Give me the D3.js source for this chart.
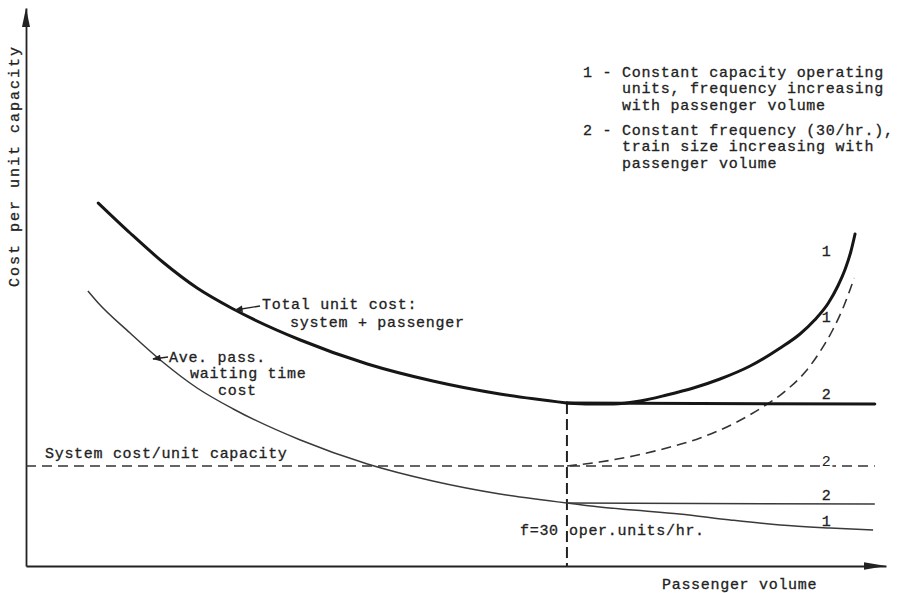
<!DOCTYPE html>
<html>
<head>
<meta charset="utf-8">
<script src="https://cdn.jsdelivr.net/npm/d3@7"></script>
<style>
  html, body { margin: 0; padding: 0; background: #fff; }
  svg { display: block; }
  text { font-family: "Liberation Mono", "DejaVu Sans Mono", monospace; fill: #222; font-size: 15px;
         letter-spacing: 0.7px; stroke: #222; stroke-width: 0.3px; }
</style>
</head>
<body>
<svg id="chart" width="904" height="593"></svg>
<script>
// Passenger volume (arbitrary units) against cost per unit capacity (arbitrary units)
const fThirtyVolume = 62.9;   // volume at which f = 30 operating units/hr.

// Total unit cost: system + passenger
const totalShared = [[8.4,3.63],[12.1,3.33],[15.9,3.04],[19.9,2.78],[24.1,2.57],[31.9,2.26],[39.7,2.02],[47.3,1.85],[55.1,1.72],[62.9,1.63]];
const totalCase1  = [[62.9,1.63],[65.6,1.62],[68.3,1.62],[71.4,1.65],[74.5,1.71],[77.6,1.78],[80.7,1.87],[84.2,2.00],[87.7,2.18],[90.0,2.32],[91.7,2.46],[93.3,2.63],[94.4,2.80],[95.3,2.98],[95.9,3.14],[96.4,3.32]];
const totalCase2  = [[62.9,1.63],[98.7,1.62]];

// System cost / unit capacity
const systemCase2 = [[0,1.00],[98.7,1.00]];
const systemCase1 = [[62.9,1.00],[66.7,1.04],[70.6,1.10],[74.5,1.18],[78.4,1.28],[82.2,1.42],[85.3,1.57],[88.3,1.75],[90.6,1.94],[92.3,2.14],[93.8,2.36],[95.1,2.60],[96.3,2.88]];

// Average passenger waiting time cost
const waitingShared = [[7.2,2.75],[8.4,2.63],[12.1,2.33],[15.9,2.04],[19.9,1.78],[24.1,1.57],[31.9,1.26],[39.7,1.02],[47.3,0.85],[55.1,0.72],[62.9,0.63]];
const waitingCase1  = [[62.9,0.63],[66.7,0.59],[70.6,0.56],[76.0,0.52],[81.9,0.46],[87.7,0.41],[93.5,0.38],[98.5,0.36]];
const waitingCase2  = [[62.9,0.63],[98.7,0.62]];

// Text
const yTitle = "Cost per unit capacity";
const xTitle = "Passenger volume";
const legendLines = [
  ["1 - ", "Constant capacity operating", "units, frequency increasing", "with passenger volume"],
  ["2 - ", "Constant frequency (30/hr.),", "train size increasing with", "passenger volume"]
];

const svg = d3.select("#chart");
const x = d3.scaleLinear().domain([0, 100]).range([26, 886]);
const y = d3.scaleLinear().domain([0, 5.58]).range([566, 8]);
const line = d3.line().x(d => x(d[0])).y(d => y(d[1])).curve(d3.curveMonotoneX);

// axes (no ticks) with arrowheads
const xAxis = svg.append("g").attr("transform", `translate(0,${y(0)})`)
  .call(d3.axisBottom(x).tickValues([]).tickSizeOuter(0));
const yAxis = svg.append("g").attr("transform", `translate(${x(0)},0)`)
  .call(d3.axisLeft(y).tickValues([]).tickSizeOuter(0));
[xAxis, yAxis].forEach(g => g.select(".domain").attr("stroke", "#222").attr("stroke-width", 1.8));
const xEnd = x(100), yTop = y(5.58);
svg.append("path").attr("fill", "#222")
  .attr("d", `M${xEnd},${y(0)} L${xEnd - 22},${y(0) - 3.8} L${xEnd - 22},${y(0) + 3.8} Z`);
svg.append("path").attr("fill", "#222")
  .attr("d", `M${x(0)},${yTop} L${x(0) - 4},${yTop + 19} L${x(0) + 4},${yTop + 19} Z`);

// system cost lines (dashed)
[systemCase2, systemCase1].forEach(s => {
  svg.append("path").attr("d", line(s)).attr("fill", "none")
    .attr("stroke", "#333").attr("stroke-width", 1.6).attr("stroke-dasharray", "10,6");
});

// f = 30 marker (dashed vertical)
svg.append("line")
  .attr("x1", x(fThirtyVolume)).attr("x2", x(fThirtyVolume))
  .attr("y1", y(totalShared[totalShared.length - 1][1])).attr("y2", y(0))
  .attr("stroke", "#222").attr("stroke-width", 2).attr("stroke-dasharray", "11,5");

// waiting time cost lines (thin)
[waitingShared, waitingCase1, waitingCase2].forEach(s => {
  svg.append("path").attr("d", line(s)).attr("fill", "none")
    .attr("stroke", "#3a3a3a").attr("stroke-width", 1.5);
});

// total unit cost lines (heavy)
[totalShared, totalCase1, totalCase2].forEach(s => {
  svg.append("path").attr("d", line(s)).attr("fill", "none")
    .attr("stroke", "#161616").attr("stroke-width", 3).attr("stroke-linecap", "round");
});

// leader arrows for curve captions
svg.append("defs").append("marker").attr("id", "tip")
  .attr("viewBox", "0 0 10 10").attr("refX", 9).attr("refY", 5)
  .attr("markerWidth", 7).attr("markerHeight", 6).attr("orient", "auto")
  .append("path").attr("d", "M0,1 L10,5 L0,9 Z").attr("fill", "#222");
function leader(x1, y1, x2, y2) {
  svg.append("line").attr("x1", x1).attr("y1", y1).attr("x2", x2).attr("y2", y2)
    .attr("stroke", "#222").attr("stroke-width", 1.4).attr("marker-end", "url(#tip)");
}

const txt = (s, tx, ty, anchor = "start") =>
  svg.append("text").attr("x", tx).attr("y", ty).attr("text-anchor", anchor).text(s);

// captions
leader(260, 306, 235, 310);
txt("Total unit cost:", 262, 309);
txt("system + passenger", 290, 327);

leader(168, 357, 153, 359);
txt("Ave. pass.", 169, 362);
txt("waiting time", 190, 378);
txt("cost", 218, 395);

txt("System cost/unit capacity", 45, 458);
txt("f=30", 520, 535);
txt("oper.units/hr.", 569, 535);

// axis titles
txt(xTitle, 662, 589);
svg.append("text").attr("transform", "translate(19,287) rotate(-90)")
  .style("letter-spacing", "2px").text(yTitle);

// legend
const legendTop = [77, 135];
legendLines.forEach((lines, i) => {
  txt(lines[0], 583, legendTop[i]).attr("xml:space", "preserve");
  lines.slice(1).forEach((l, j) => txt(l, 622, legendTop[i] + j * 16.3));
});

// case numbers at the curve ends
const tagX = x(93.1);
txt("1", tagX, 256, "middle");
txt("1", tagX, 322, "middle");
txt("2", tagX, 399, "middle");
txt("2", tagX, 466, "middle").style("stroke", "#fff").style("stroke-width", "5px")
  .attr("paint-order", "stroke");
txt("2", tagX, 500, "middle");
txt("1", tagX, 526, "middle");
</script>
</body>
</html>
